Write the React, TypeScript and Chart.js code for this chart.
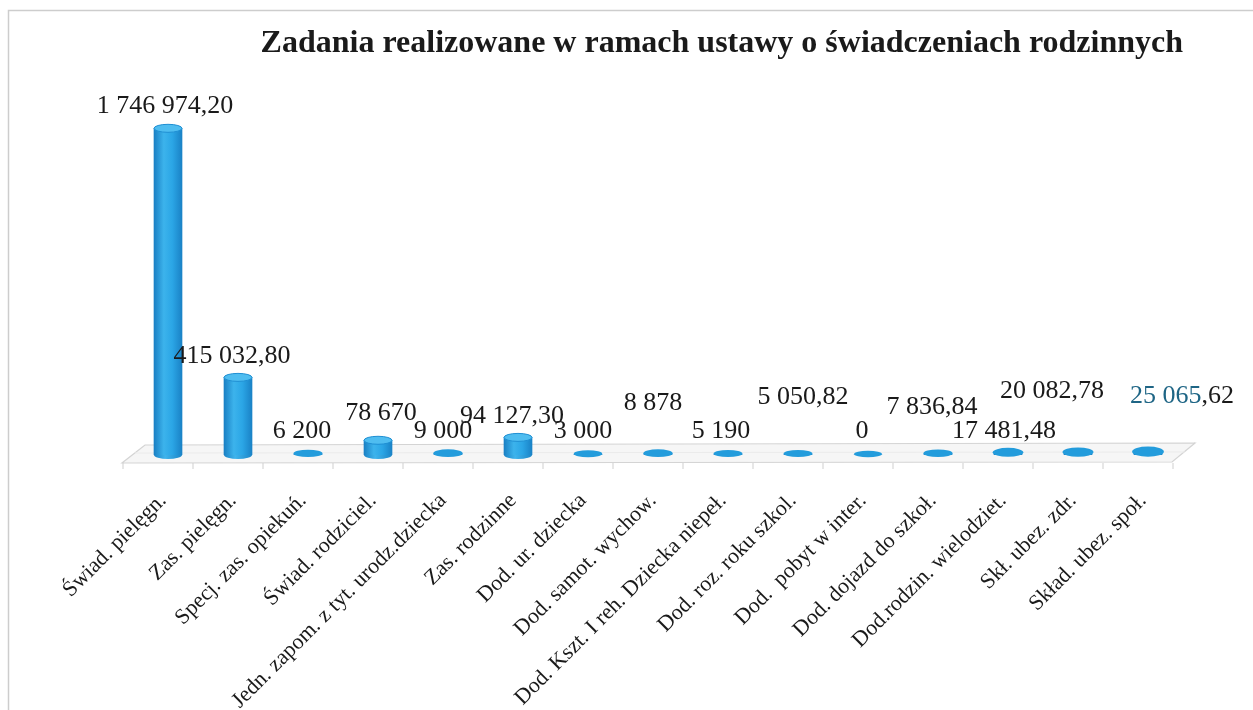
import React, { useEffect, useRef } from "react";
import { Chart, registerables } from "chart.js";

Chart.register(...registerables);

const TITLE = "Zadania realizowane w ramach ustawy o świadczeniach rodzinnych";

const categories = [
  "Świad. pielęgn.",
  "Zas. pielęgn.",
  "Specj. zas. opiekuń.",
  "Świad. rodziciel.",
  "Jedn. zapom. z tyt. urodz.dziecka",
  "Zas. rodzinne",
  "Dod. ur. dziecka",
  "Dod. samot. wychow.",
  "Dod. Kszt. I reh. Dziecka niepeł.",
  "Dod. roz. roku szkol.",
  "Dod.  pobyt w inter.",
  "Dod. dojazd do szkoł.",
  "Dod.rodzin. wielodziet.",
  "Skł. ubez. zdr.",
  "Skład. ubez. społ.",
];

const values = [
  1746974.2, 415032.8, 6200, 78670, 9000, 94127.3, 3000, 8878, 5190, 5050.82,
  0, 7836.84, 17481.48, 20082.78, 25065.62,
];

// Extra nudges [dx, dy] of the value labels (Excel 3D label placement)
const labelNudge: [number, number][] = [
  [2, 0], [-1, 1], [-1, -1], [8, -5], [0, 0], [-1, 1], [0, -1], [0, -28],
  [-2, -1], [10, -35], [-1, -2], [-1, -24], [1, 1], [-21, -38], [39, -32],
];

const Y_MAX = 2000000;

function formatPl(v: number): string {
  const hasFrac = Math.abs(v - Math.round(v)) > 1e-9;
  const fixed = hasFrac ? v.toFixed(2) : String(Math.round(v));
  const [intPart, frac] = fixed.split(".");
  const grouped = intPart.replace(/\B(?=(\d{3})+(?!\d))/g, " ");
  return frac ? grouped + "," + frac : grouped;
}

const SERIF = "'Liberation Serif', 'Times New Roman', serif";

const cylinderPlugin = {
  id: "cylinder3d",
  beforeDraw(chart: any) {
    const { ctx, width, height } = chart;
    ctx.save();
    ctx.fillStyle = "#ffffff";
    ctx.fillRect(0, 0, width, height);
    ctx.strokeStyle = "#cdcdcd";
    ctx.lineWidth = 1.5;
    ctx.beginPath();
    ctx.moveTo(8.5, height);
    ctx.lineTo(8.5, 10.5);
    ctx.lineTo(width, 10.5);
    ctx.stroke();
    ctx.restore();
  },
  beforeDatasetsDraw(chart: any) {
    const { ctx, chartArea, scales } = chart;
    const xs = scales.x;
    const n = categories.length;
    const p0 = xs.getPixelForValue(0);
    const p1 = xs.getPixelForValue(1);
    const half = (p1 - p0) / 2;
    const b = chartArea.bottom;
    const shift = 10;
    const L = p0 - half - shift;
    const R = xs.getPixelForValue(n - 1) + half - shift;
    ctx.save();
    ctx.beginPath();
    ctx.moveTo(L + 22, b - 10);
    ctx.lineTo(R + 22, b - 12);
    ctx.lineTo(R - 1, b + 7);
    ctx.lineTo(L - 1, b + 8);
    ctx.closePath();
    ctx.fillStyle = "#f6f6f6";
    ctx.fill();
    ctx.strokeStyle = "#d4d4d4";
    ctx.lineWidth = 1.2;
    ctx.stroke();
    ctx.beginPath();
    ctx.moveTo(L + 12, b - 2);
    ctx.lineTo(R + 12, b - 3);
    ctx.strokeStyle = "#ebebeb";
    ctx.stroke();
    ctx.strokeStyle = "#cfcfcf";
    ctx.lineWidth = 1;
    for (let k = 0; k <= n; k++) {
      const x = L + k * 2 * half;
      ctx.beginPath();
      ctx.moveTo(x, b + 8);
      ctx.lineTo(x, b + 14);
      ctx.stroke();
    }
    ctx.restore();
  },
  afterDatasetsDraw(chart: any) {
    const { ctx } = chart;
    const meta = chart.getDatasetMeta(0);
    ctx.save();
    meta.data.forEach((el: any) => {
      const x = el.x;
      const top = el.y;
      const base = el.base;
      const w = el.width;
      const rx = w / 2;
      const ry = 4;
      if (base - top < 5) {
        const extra = Math.max(0, base - top);
        ctx.beginPath();
        ctx.ellipse(x, base - 1 - extra / 2, rx + extra * 0.4, 3.2 + extra * 0.4, 0, 0, Math.PI * 2);
        ctx.fillStyle = "#239cdc";
        ctx.fill();
        return;
      }
      const g = ctx.createLinearGradient(x - rx, 0, x + rx, 0);
      g.addColorStop(0, "#1a84c8");
      g.addColorStop(0.4, "#3fb4ec");
      g.addColorStop(1, "#1c86c8");
      ctx.beginPath();
      ctx.ellipse(x, base, rx, ry, 0, 0, Math.PI);
      ctx.fillStyle = g;
      ctx.fill();
      ctx.beginPath();
      ctx.ellipse(x, top, rx, ry, 0, 0, Math.PI * 2);
      ctx.fillStyle = "#4fbdf0";
      ctx.fill();
      ctx.strokeStyle = "#1f8fd3";
      ctx.lineWidth = 1;
      ctx.stroke();
    });
    ctx.font = "26px " + SERIF;
    ctx.textBaseline = "middle";
    meta.data.forEach((el: any, i: number) => {
      const txt = formatPl(values[i]);
      const nd = labelNudge[i] || [0, 0];
      const cx = el.x - 5 + nd[0];
      const cy = el.y - 22 + nd[1];
      if (i === values.length - 1 && txt.indexOf(",") > 0) {
        const a = txt.slice(0, txt.indexOf(","));
        const bTxt = txt.slice(txt.indexOf(","));
        const wa = ctx.measureText(a).width;
        const wb = ctx.measureText(bTxt).width;
        const sx = cx - (wa + wb) / 2;
        ctx.textAlign = "left";
        ctx.fillStyle = "#1e6585";
        ctx.fillText(a, sx, cy);
        ctx.fillStyle = "#1a1a1a";
        ctx.fillText(bTxt, sx + wa, cy);
      } else {
        ctx.textAlign = "center";
        ctx.fillStyle = "#1a1a1a";
        ctx.fillText(txt, cx, cy);
      }
    });
    ctx.restore();
  },
};

export default function App() {
  const ref = useRef<HTMLCanvasElement | null>(null);

  useEffect(() => {
    const canvas = ref.current;
    if (!canvas) return;
    const chart = new Chart(canvas, {
      type: "bar",
      data: {
        labels: categories,
        datasets: [
          {
            data: values,
            barThickness: 28,
            borderWidth: 0,
            backgroundColor: (c: any) => {
              const ch = c.chart;
              const xs = ch.scales && ch.scales.x;
              if (!xs || c.dataIndex === undefined) return "#2aa4e4";
              const x = xs.getPixelForValue(c.dataIndex);
              if (!isFinite(x)) return "#2aa4e4";
              const g = ch.ctx.createLinearGradient(x - 14, 0, x + 14, 0);
              g.addColorStop(0, "#1a80c4");
              g.addColorStop(0.35, "#3cb3ec");
              g.addColorStop(0.65, "#2ba6e6");
              g.addColorStop(1, "#1a82c6");
              return g;
            },
          },
        ],
      },
      options: {
        responsive: false,
        animation: false,
        events: [],
        layout: { padding: { left: 133, right: 70, top: 0, bottom: 0 } },
        plugins: {
          legend: { display: false },
          tooltip: { enabled: false },
          title: {
            display: true,
            text: TITLE,
            align: "end",
            color: "#1a1a1a",
            font: { family: SERIF, size: 32, weight: "bold", lineHeight: 1.2 },
            padding: { top: 25, bottom: 17.6 },
          },
        },
        scales: {
          x: {
            grid: { display: false, drawTicks: false },
            border: { display: false },
            ticks: {
              autoSkip: false,
              minRotation: 45,
              maxRotation: 45,
              padding: 33,
              labelOffset: -5,
              color: "#1a1a1a",
              font: { family: SERIF, size: 22 },
            },
            afterFit: (scale: any) => {
              scale.height = 255;
            },
          },
          y: {
            display: false,
            min: 0,
            max: Y_MAX,
          },
        },
      },
      plugins: [cylinderPlugin],
    });
    return () => chart.destroy();
  }, []);

  return (
    <div style={{ position: "absolute", left: 0, top: 0, width: 1253, height: 710, background: "#fff" }}>
      <canvas ref={ref} width={1253} height={710} style={{ display: "block" }} />
    </div>
  );
}
